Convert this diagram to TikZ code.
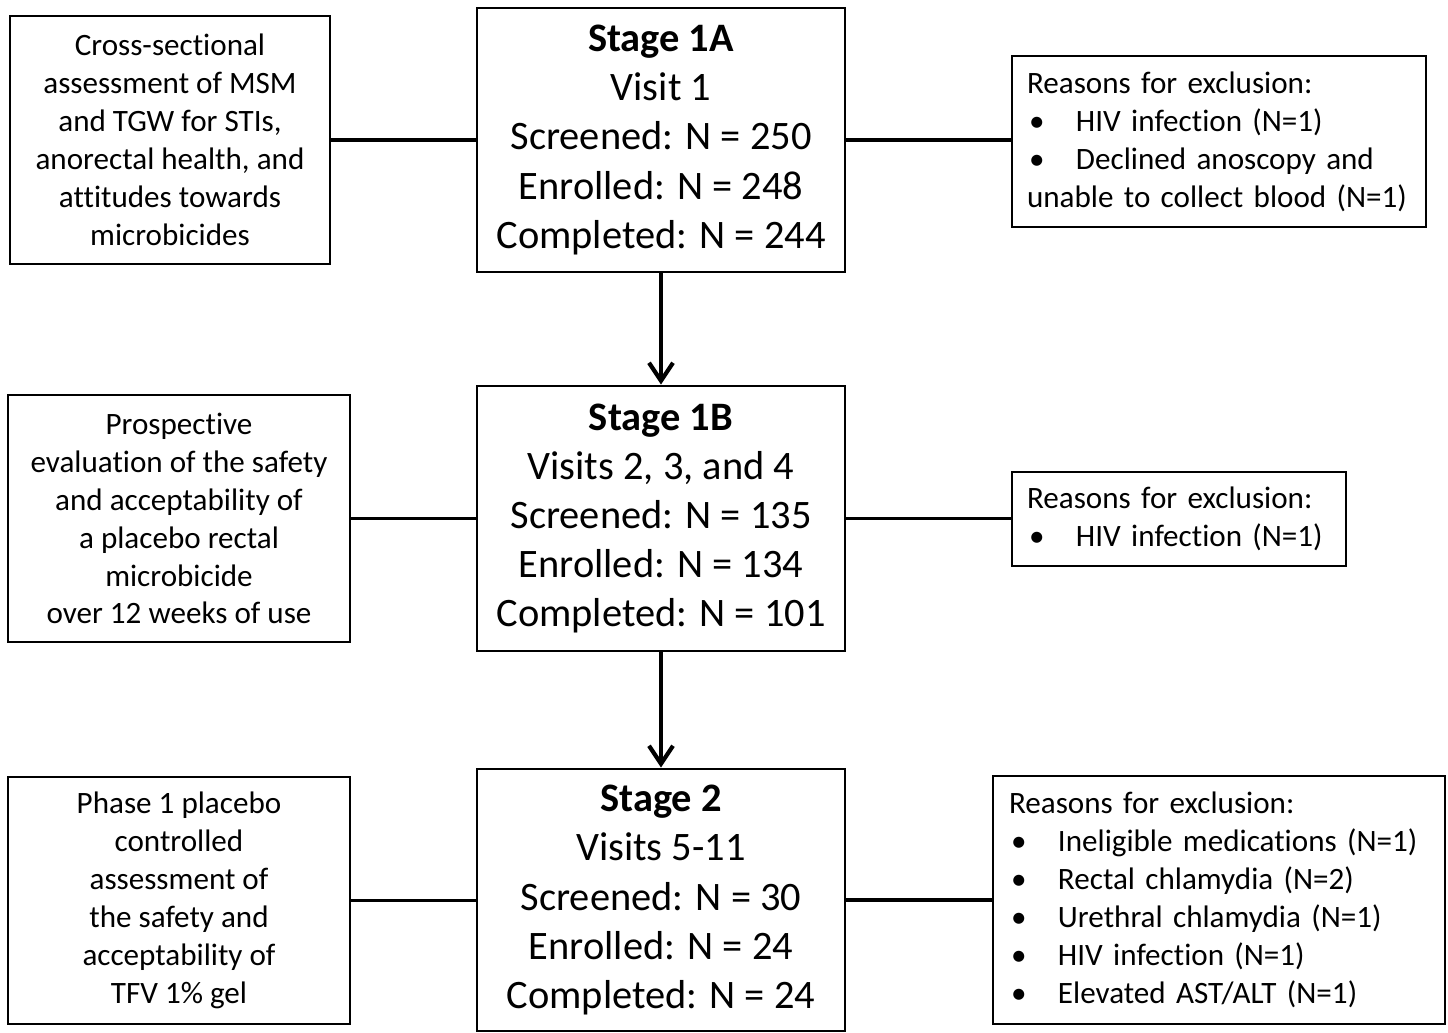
\documentclass[tikz,border=0pt]{standalone}
\usepackage{fontspec}
\setmainfont{Carlito}[Ligatures=NoCommon]
\usepackage{tikz}
\usetikzlibrary{arrows.meta,positioning}
\newcommand{\bul}{\makebox[0.98cm][l]{\hspace{0.04cm}\textbullet}}
\tikzset{
  stagecard/.style={draw=black,line width=1.6pt,align=center,inner sep=0pt,
                    minimum width=7.36cm,font=\fontsize{23}{27.9}\selectfont},
  notecard/.style={draw=black,line width=1.6pt,align=center,inner sep=0pt,
                   font=\fontsize{17.7}{21.6}\selectfont},
  exclcard/.style={draw=black,line width=1.6pt,align=left,inner ysep=0pt,
                   inner xsep=0.3cm,font=\fontsize{17.7}{21.6}\selectfont},
  linkline/.style={line width=2.2pt,draw=black},
  flowarr/.style={-{Straight Barb[length=0.36cm,width=0.48cm,line width=2.4pt]},
                  line width=2.2pt,draw=black}
}
\begin{document}
\begin{tikzpicture}
  \useasboundingbox (0,0) rectangle (28.96,-20.64);
  % stages
  \node[stagecard,minimum height=5.28cm] (s1a) at (13.22,-2.80)
    {\textbf{Stage 1A}\\Visit 1\\Screened: N = 250\\Enrolled: N = 248\\Completed: N = 244};
  \node[stagecard,minimum height=5.30cm] (s1b) at (13.22,-10.37)
    {\textbf{Stage 1B}\\Visits 2, 3, and 4\\Screened: N = 135\\Enrolled: N = 134\\Completed: N = 101};
  \node[stagecard,minimum height=5.24cm] (s2) at (13.22,-18.00)
    {\textbf{Stage 2}\\Visits 5-11\\Screened: N = 30\\Enrolled: N = 24\\Completed: N = 24};
  % descriptions
  \node[notecard,minimum width=6.40cm,minimum height=4.96cm] (d1a) at (3.40,-2.80)
    {Cross-sectional\\assessment of MSM\\and TGW for STIs,\\anorectal health, and\\attitudes towards\\microbicides};
  \node[notecard,minimum width=6.84cm,minimum height=4.94cm] (d1b) at (3.58,-10.37)
    {Prospective\\evaluation of the safety\\and acceptability of\\a placebo rectal\\microbicide\\over 12 weeks of use};
  \node[notecard,minimum width=6.84cm,minimum height=4.94cm] (d2) at (3.58,-18.01)
    {Phase 1 placebo\\controlled\\assessment of\\the safety and\\acceptability of\\TFV 1\% gel};
  % exclusions
  \node[exclcard,text width=7.68cm,minimum height=3.42cm] (x1a) at (24.38,-2.83)
    {Reasons for exclusion:\\\bul HIV infection (N=1)\\\bul Declined anoscopy and\\unable to collect blood (N=1)};
  \node[exclcard,text width=6.08cm,minimum height=1.88cm] (x1b) at (23.58,-10.38)
    {Reasons for exclusion:\\\bul HIV infection (N=1)};
  \node[exclcard,text width=8.40cm,inner xsep=0.32cm,minimum height=4.96cm] (x2) at (24.38,-18.00)
    {Reasons for exclusion:\\\bul Ineligible medications (N=1)\\\bul Rectal chlamydia (N=2)\\\bul Urethral chlamydia (N=1)\\\bul HIV infection (N=1)\\\bul Elevated AST/ALT (N=1)};
  % connectors
  \draw[linkline] (d1a.east) -- (d1a.east -| s1a.west);
  \draw[linkline] (s1a.east) -- (s1a.east -| x1a.west);
  \draw[linkline] (d1b.east) -- (d1b.east -| s1b.west);
  \draw[linkline] (s1b.east) -- (s1b.east -| x1b.west);
  \draw[linkline] (d2.east) -- (d2.east -| s2.west);
  \draw[linkline] (s2.east) -- (s2.east -| x2.west);
  \draw[flowarr] (s1a.south) -- (s1b.north);
  \draw[flowarr] (s1b.south) -- (s2.north);
\end{tikzpicture}
\end{document}
